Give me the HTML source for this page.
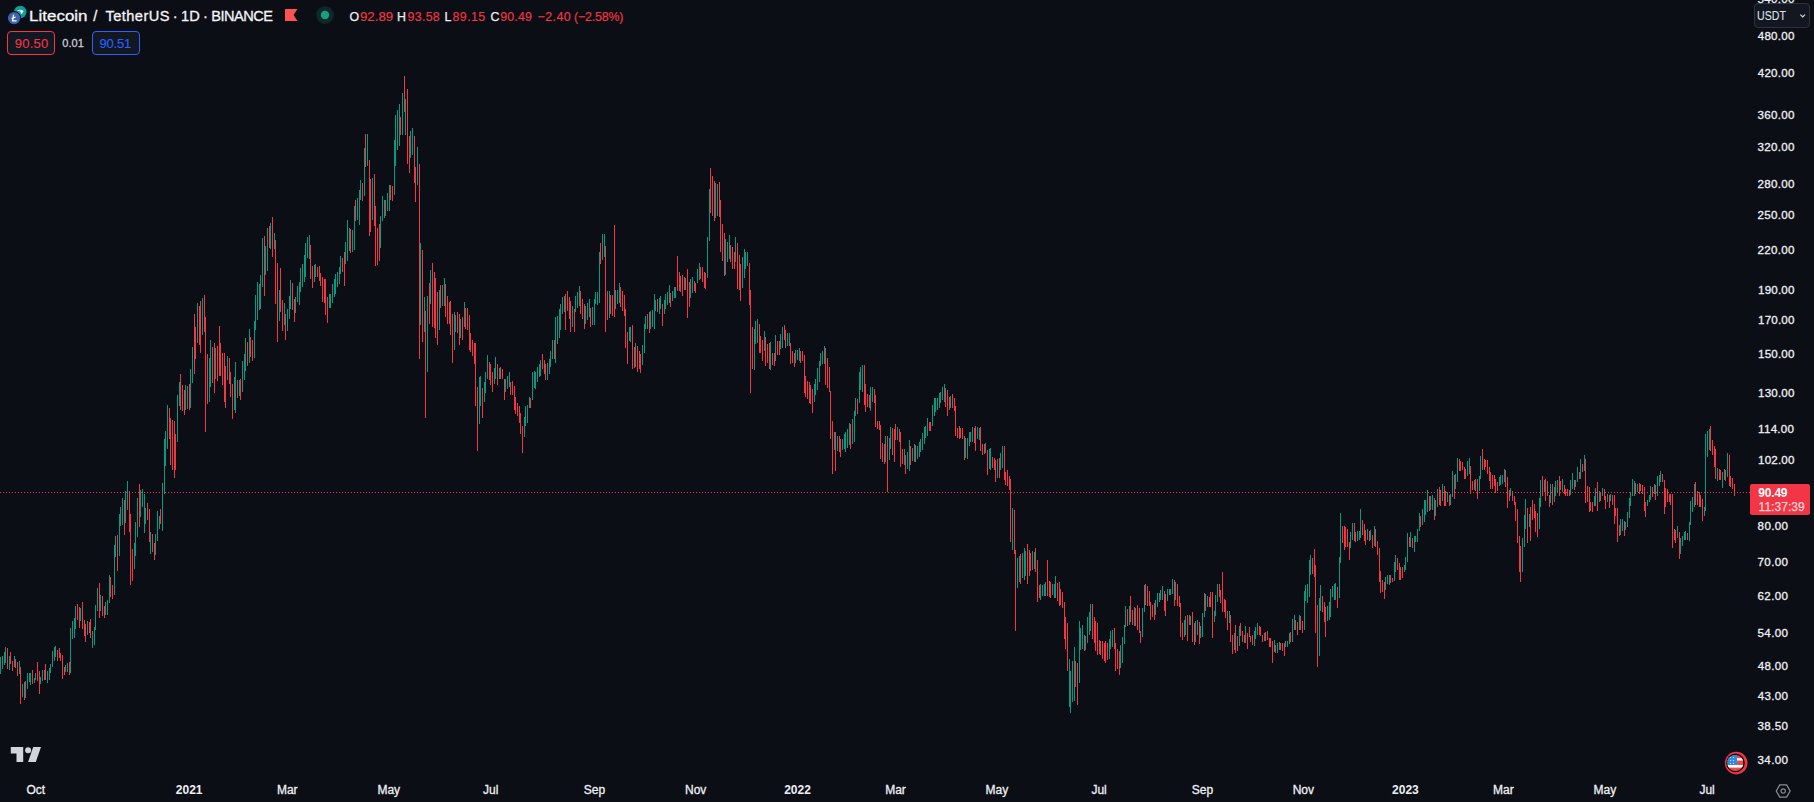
<!DOCTYPE html>
<html lang="en">
<head>
<meta charset="utf-8">
<title>LTCUSDT chart</title>
<style>
html,body{margin:0;padding:0;background:#0c0e15;}
body{width:1814px;height:802px;overflow:hidden;position:relative;font-family:"Liberation Sans",sans-serif;color:#d1d4dc;}
#chart{position:absolute;left:0;top:0;width:1814px;height:802px;}
.t{position:absolute;white-space:pre;line-height:1;}
.box{position:absolute;top:31px;height:22px;width:46px;border:1px solid;border-radius:4px;background:#131722;font-size:13px;line-height:22px;text-align:center;}
#sell{left:7px;border-color:#f23645;color:#f23645;}
#buy{left:92px;border-color:#2962ff;color:#2962ff;}
#usdt{position:absolute;left:1754px;top:3px;width:54px;height:23px;border:1px solid #2e323d;border-radius:4px;background:#131722;}
#plabel{position:absolute;left:1750px;top:484px;width:60px;height:31px;background:#f23645;border-radius:2px;}
</style>
</head>
<body>
<svg id="chart" width="1814" height="802" viewBox="0 0 1814 802">
<g fill="none" stroke-width="1" shape-rendering="crispEdges" transform="translate(0.5,0)">
<path d="M0 657v17M2 656v13M4 652v13M5 647v16M9 656v14M14 656v11M19 661v13M22 684v13M25 681v17M27 673v16M29 673v9M30 673v12M34 678v5M35 673v7M40 677v7M42 670v11M47 671v12M49 668v12M50 664v9M52 651v16M54 647v14M55 646v11M65 665v7M67 663v9M70 628v45M72 621v18M74 618v20M75 606v23M80 608v13M87 621v14M92 631v17M94 627v18M95 605v25M97 588v23M100 595v16M105 602v13M107 600v15M109 575v28M114 545v50M115 536v21M119 514v42M120 507v19M122 498v27M125 491v32M127 481v29M134 543v26M135 522v34M137 498v39M140 490v27M142 489v18M144 494v39M145 508v16M150 532v22M155 534v21M157 511v30M159 516v13M162 483v48M164 439v55M165 431v35M167 405v44M177 395v47M179 382v24M185 385v25M187 386v23M190 369v39M192 347v36M197 303v40M202 298v37M209 358v44M210 340v47M215 348v31M227 356v24M234 377v33M235 362v51M239 380v16M242 361v31M244 354v26M245 338v33M249 329v34M254 321v37M255 295v35M257 282v38M259 284v26M260 275v34M262 238v49M265 246v29M267 228v43M270 223v26M274 233v16M279 290v31M284 303v22M287 309v22M289 296v23M290 280v29M295 297v16M297 286v16M299 282v23M300 268v24M302 264v23M304 255v27M305 243v34M307 237v21M309 235v24M314 265v17M315 264v13M329 294v14M330 294v14M332 284v19M334 279v18M335 274v20M337 272v15M339 267v17M340 256v18M345 242v22M347 220v41M349 228v23M352 230v22M354 206v44M357 198v22M359 190v35M360 180v20M364 148v48M367 134v32M372 178v42M380 216v32M382 196v25M384 200v18M387 193v18M389 185v26M394 140v55M395 115v51M397 110v40M399 104v42M402 93v42M405 99v36M410 131v27M412 128v27M417 147v38M420 243v82M424 297v35M427 296v76M430 270v34M439 290v40M442 285v21M444 278v28M454 312v38M455 315v17M460 319v19M464 302v25M479 377v47M480 376v30M484 382v20M485 372v21M487 355v24M494 368v16M495 357v22M499 368v11M505 379v13M507 376v13M509 372v15M524 417v20M525 406v20M527 405v18M529 397v11M532 372v28M534 371v17M535 372v17M537 367v15M539 364v13M540 360v16M547 363v17M549 359v15M550 351v16M552 340v19M555 317v46M557 316v28M559 309v29M560 304v26M562 297v17M564 296v16M572 306v21M575 296v16M577 292v16M579 286v20M585 306v18M587 303v17M589 299v18M592 307v18M594 299v26M595 292v12M597 292v13M599 252v51M602 234v26M604 234v23M609 291v27M615 290v19M617 290v14M619 283v20M629 327v14M630 327v15M635 343v24M642 345v20M644 324v29M645 316v13M647 314v15M650 311v18M652 310v17M654 294v35M655 300v11M659 298v16M660 296v13M664 300v14M665 294v15M667 292v13M669 285v18M672 291v10M674 287v11M675 287v11M684 277v13M690 279v19M692 277v16M697 269v14M699 263v17M707 237v41M709 189v52M715 183v35M717 184v32M725 239v36M727 242v20M729 235v24M735 237v25M742 257v31M744 249v29M745 252v17M747 252v14M754 329v41M755 321v23M757 319v24M764 331v20M770 342v28M775 335v26M780 334v15M782 327v21M787 333v13M789 333v13M795 350v13M797 350v10M799 348v13M814 384v18M815 379v16M817 368v22M819 361v21M820 353v13M822 351v13M824 346v18M834 432v18M837 436v15M842 439v11M844 434v15M845 432v20M847 429v19M849 423v22M852 419v25M854 411v31M855 398v18M859 372v31M860 367v23M862 365v27M870 387v24M872 387v15M885 436v26M889 438v22M890 427v22M897 427v13M904 449v16M907 452v17M909 440v31M912 448v13M914 444v18M917 446v13M919 442v15M920 439v13M922 433v17M924 427v17M925 426v12M927 418v18M932 405v21M934 398v18M935 398v14M937 398v12M939 393v15M940 392v11M942 387v13M944 384v18M950 396v12M965 438v20M967 438v21M969 432v14M970 432v10M972 427v15M977 427v12M979 428v12M985 443v10M989 449v20M990 448v22M997 459v19M1000 453v17M1002 446v22M1012 508v42M1017 558v30M1019 556v26M1022 553v25M1024 548v32M1025 551v25M1032 551v19M1034 552v17M1040 584v16M1042 585v11M1044 584v12M1045 582v14M1052 584v11M1054 584v14M1055 576v22M1069 659v48M1070 671v42M1072 661v41M1074 647v54M1079 621v62M1080 628v22M1082 625v24M1085 636v14M1087 617v26M1089 612v23M1090 604v27M1109 639v20M1110 631v18M1112 630v17M1120 645v23M1122 637v26M1124 625v19M1125 606v21M1129 606v19M1135 608v18M1142 608v29M1144 585v27M1155 600v15M1157 593v14M1159 593v9M1160 590v10M1162 586v14M1167 589v12M1169 589v6M1170 589v6M1172 579v15M1175 582v18M1184 620v17M1185 616v19M1190 616v9M1195 621v21M1197 620v15M1200 626v12M1202 613v24M1204 593v24M1207 596v11M1214 611v11M1215 595v21M1217 584v18M1229 611v12M1234 633v17M1239 626v20M1245 626v17M1254 631v15M1255 627v12M1257 623v12M1264 633v8M1274 640v12M1277 643v10M1279 642v8M1285 641v6M1287 641v6M1289 633v11M1292 619v23M1294 615v15M1299 615v15M1304 591v39M1305 585v16M1307 584v19M1309 560v37M1310 555v20M1319 598v58M1320 585v26M1327 606v15M1329 602v18M1330 589v28M1332 586v11M1334 584v16M1335 583v17M1339 557v41M1340 513v50M1350 532v16M1352 523v17M1357 531v10M1359 531v9M1360 509v29M1367 529v11M1370 530v10M1374 526v20M1385 577v13M1387 575v9M1389 575v10M1394 562v19M1395 555v17M1404 565v7M1405 557v13M1407 533v29M1410 532v15M1414 536v16M1415 536v6M1417 529v13M1419 513v18M1422 509v16M1424 500v22M1425 500v15M1427 490v22M1430 496v14M1432 495v15M1435 500v16M1437 489v18M1442 484v17M1447 492v10M1450 494v11M1452 471v26M1455 474v15M1457 458v24M1467 461v15M1469 458v16M1474 480v10M1479 476v15M1480 456v23M1499 477v9M1500 475v10M1502 475v9M1504 469v13M1510 488v8M1522 538v34M1524 515v32M1525 499v30M1529 514v13M1539 498v31M1540 480v27M1544 480v12M1550 484v19M1554 487v15M1555 481v15M1557 480v12M1562 479v13M1570 480v15M1572 473v16M1575 480v7M1577 467v15M1580 459v20M1584 455v16M1594 496v10M1595 488v18M1599 491v11M1602 488v8M1607 494v8M1610 494v7M1620 519v16M1622 519v12M1625 522v8M1627 512v15M1629 498v20M1630 492v14M1632 479v17M1634 481v15M1637 484v8M1647 500v6M1649 495v7M1650 486v14M1654 484v10M1657 476v20M1659 475v11M1660 471v11M1677 526v12M1680 538v16M1682 536v10M1684 532v8M1685 531v9M1689 522v19M1690 501v24M1692 497v15M1694 484v23M1704 507v9M1705 434v77M1707 431v26M1709 429v21M1717 468v13M1722 472v16M1724 469v11M1727 453v24" stroke="#089981"/>
<path d="M7 648v21M10 652v12M12 661v10M15 659v9M17 662v14M20 667v37M24 682v18M32 670v14M37 662v19M39 671v23M44 670v10M45 664v16M57 650v11M59 648v10M60 653v8M62 655v24M64 667v8M69 662v13M77 604v16M79 607v21M82 602v27M84 620v16M85 624v18M89 622v11M90 619v19M99 583v35M102 596v20M104 606v12M110 577v20M112 585v14M117 535v36M124 500v35M129 491v41M130 514v71M132 549v32M139 484v43M147 503v17M149 509v33M152 534v18M154 543v17M160 509v15M169 408v31M170 418v47M172 420v50M174 421v57M175 434v36M180 374v36M182 385v26M184 390v25M189 384v26M194 314v60M195 327v32M199 306v39M200 301v52M204 295v37M205 317v115M207 354v50M212 347v36M214 343v50M217 346v35M219 326v50M220 343v33M222 353v32M224 353v49M225 366v42M229 358v26M230 372v25M232 384v35M237 380v18M240 379v21M247 342v24M250 337v20M252 340v21M264 236v60M269 226v22M272 217v40M275 240v64M277 263v79M280 268v44M282 300v31M285 314v26M292 283v27M294 299v23M310 245v34M312 266v22M317 267v10M319 266v15M320 273v13M322 277v25M324 279v24M325 279v36M327 297v26M342 258v14M344 252v34M350 229v24M355 200v21M362 183v18M365 134v33M369 160v76M370 179v53M374 174v52M375 206v60M377 228v37M379 224v37M385 200v16M390 185v15M392 186v15M400 117v18M404 76v36M407 89v75M409 136v37M414 136v47M415 167v35M419 164v195M422 250v92M425 311v107M429 283v41M432 263v64M434 272v56M435 278v60M437 292v53M440 285v23M445 284v33M447 296v28M449 302v22M450 301v34M452 314v49M457 312v21M459 314v31M462 317v23M465 308v21M467 308v22M469 315v35M470 333v19M472 340v16M474 343v21M475 343v63M477 387v64M482 388v30M489 362v18M490 364v21M492 372v20M497 364v21M500 367v12M502 369v10M504 379v21M510 382v13M512 381v14M514 386v24M515 397v17M517 403v13M519 406v17M520 413v21M522 426v27M530 398v10M542 354v15M544 360v14M545 364v16M554 340v19M565 294v36M567 291v20M569 297v22M570 301v31M574 309v23M580 291v23M582 299v20M584 304v25M590 308v19M600 243v21M605 246v86M607 291v29M610 295v19M612 295v21M614 225v92M620 287v20M622 291v20M624 295v21M625 309v39M627 332v32M632 325v44M634 347v21M637 346v26M639 351v18M640 354v19M649 312v21M657 299v13M662 304v22M670 293v14M677 256v35M679 272v19M680 276v16M682 275v21M685 278v12M687 269v49M689 282v25M694 281v10M695 283v10M700 267v12M702 267v15M704 272v16M705 273v16M710 168v45M712 176v40M714 181v40M719 182v35M720 200v52M722 224v37M724 233v43M730 245v17M732 247v22M734 252v17M737 243v46M739 255v35M740 264v37M749 263v42M750 290v103M752 327v42M759 324v29M760 336v17M762 340v21M765 337v29M767 344v19M769 343v26M772 353v12M774 353v13M777 341v14M779 341v14M784 325v15M785 330v18M790 343v21M792 351v12M794 353v14M800 351v12M802 351v10M804 355v38M805 376v21M807 381v18M809 382v21M810 385v19M812 389v24M825 348v37M827 358v30M829 367v25M830 391v48M832 421v53M835 432v39M839 436v16M840 439v18M850 424v25M857 399v15M864 365v40M865 384v28M867 394v13M869 395v13M874 389v14M875 395v32M877 421v8M879 421v9M880 425v34M882 443v19M884 444v20M887 436v56M892 428v27M894 429v33M895 424v16M899 429v13M900 432v35M902 449v15M905 455v19M910 446v19M915 445v17M929 422v9M930 422v9M945 388v19M947 390v26M949 397v13M952 394v14M954 398v13M955 406v30M957 428v10M959 426v13M960 428v10M962 428v11M964 436v24M974 428v15M975 426v25M980 427v24M982 444v11M984 444v10M987 450v25M992 457v11M994 458v12M995 460v22M999 458v20M1004 446v34M1005 472v13M1007 470v16M1009 476v14M1010 479v63M1014 510v44M1015 550v81M1020 554v30M1027 544v40M1029 550v26M1030 553v18M1035 548v24M1037 560v42M1039 585v13M1047 560v36M1049 581v16M1050 582v16M1057 583v18M1059 582v24M1060 589v16M1062 592v16M1064 602v37M1065 617v32M1067 623v48M1075 661v26M1077 663v42M1084 635v16M1092 604v35M1094 617v26M1095 621v30M1097 623v32M1099 640v14M1100 641v14M1102 641v18M1104 643v18M1105 641v22M1107 643v17M1114 628v21M1115 643v28M1117 649v20M1119 651v24M1127 609v17M1130 596v26M1132 610v15M1134 607v19M1137 605v25M1139 608v25M1140 631v12M1145 584v21M1147 586v20M1149 591v15M1150 602v18M1152 605v12M1154 603v17M1164 591v20M1165 594v22M1174 580v26M1177 584v22M1179 596v11M1180 603v34M1182 623v17M1187 615v26M1189 615v10M1192 612v30M1194 623v22M1199 622v22M1205 594v17M1209 597v10M1210 592v15M1212 592v46M1219 584v13M1220 590v13M1222 572v40M1224 599v13M1225 600v18M1227 611v19M1230 615v27M1232 635v19M1235 625v28M1237 636v15M1240 623v13M1242 631v11M1244 635v8M1247 633v16M1249 627v10M1250 636v6M1252 635v10M1259 626v9M1260 627v9M1262 635v7M1265 632v9M1267 631v9M1269 638v9M1270 638v9M1272 641v22M1275 645v8M1280 643v7M1282 643v8M1284 643v13M1290 632v10M1295 620v10M1297 622v13M1300 616v14M1302 621v12M1312 558v16M1314 549v28M1315 565v68M1317 605v62M1322 596v16M1324 602v20M1325 607v30M1337 587v21M1342 526v17M1344 526v24M1345 527v20M1347 529v18M1349 542v18M1354 523v18M1355 532v10M1362 520v15M1364 524v17M1365 530v15M1369 531v10M1372 535v13M1375 529v18M1377 541v14M1379 548v34M1380 571v22M1382 580v12M1384 582v17M1390 575v8M1392 578v4M1397 558v12M1399 563v17M1400 567v13M1402 567v11M1409 537v10M1412 538v10M1420 516v11M1429 496v15M1434 498v22M1439 487v18M1440 490v16M1444 486v20M1445 491v15M1449 495v11M1454 475v24M1459 459v12M1460 461v10M1462 462v8M1464 467v12M1465 469v10M1470 466v28M1472 481v9M1475 479v12M1477 479v20M1482 449v21M1484 459v11M1485 460v7M1487 460v14M1489 467v14M1490 472v17M1492 475v14M1494 475v11M1495 479v14M1497 482v9M1505 470v17M1507 477v31M1509 490v11M1512 491v10M1514 496v9M1515 502v19M1517 509v34M1519 536v36M1520 546v36M1527 508v35M1530 507v34M1532 500v20M1534 504v14M1535 511v21M1537 513v24M1542 476v20M1545 479v22M1547 481v15M1549 495v12M1552 484v21M1559 476v20M1560 481v9M1564 485v9M1565 489v7M1567 489v7M1569 490v6M1574 480v10M1579 472v7M1582 464v8M1585 459v44M1587 486v16M1589 487v25M1590 502v9M1592 502v10M1597 482v29M1600 492v9M1604 489v11M1605 496v13M1609 495v13M1612 495v10M1614 495v29M1615 508v8M1617 508v34M1619 525v11M1624 521v15M1635 483v11M1639 483v11M1640 484v7M1642 485v9M1644 487v24M1645 502v15M1652 487v10M1655 485v15M1662 474v8M1664 480v34M1665 488v19M1667 489v13M1669 494v8M1670 494v11M1672 494v54M1674 529v11M1675 530v13M1679 532v27M1687 533v7M1695 482v23M1697 491v14M1699 492v15M1700 495v12M1702 499v22M1710 426v25M1712 440v15M1714 446v21M1715 449v30M1719 469v11M1720 470v10M1725 470v11M1729 455v31M1730 476v11M1732 478v11M1734 484v12" stroke="#f23645"/>
</g>
<line x1="0" y1="492.5" x2="1750" y2="492.5" stroke="#f23645" stroke-width="1" stroke-dasharray="1 2" shape-rendering="crispEdges"/>
<!-- symbol logos -->
<circle cx="20.3" cy="12" r="6.2" fill="#109d98"/>
<path d="M17.1 10.4 Q20.6 9.1 23.7 11 L22.7 12.5 L21.7 13.9 L20.4 13.1 L21 11.9 Q19 10.9 17.5 11.1 Z" fill="#eefaf9"/><ellipse cx="20" cy="10.85" rx="0.9" ry="0.4" fill="#109d98"/>
<circle cx="14.1" cy="18.1" r="7" fill="#0c0e15"/>
<circle cx="14.1" cy="18.1" r="6.2" fill="#3e62ad"/>
<path d="M13.6 14.6 L12.6 20.8 L16.6 20.8 M11.6 18.6 L15.6 17" fill="none" stroke="#fff" stroke-width="1.3"/>
<!-- flag -->
<path d="M285 9 H297.5 L293.5 15 L297.5 21 H285 Z" fill="#ff5252"/>
<!-- status -->
<circle cx="325" cy="15" r="8.8" fill="#10282a"/>
<circle cx="325" cy="15" r="4.2" fill="#14a085"/>
<!-- TV logo -->
<path d="M10.8 747 H23.2 V762 H16.5 V753.4 H10.8 Z" fill="#d1d4dc"/>
<circle cx="28.1" cy="750.3" r="3" fill="#d1d4dc"/>
<path d="M33.2 747 H41 L35.8 762 H28.1 Z" fill="#d1d4dc"/>
<!-- US flag round icon -->
<circle cx="1736.2" cy="763.1" r="11.3" fill="#f23645"/><circle cx="1735.5" cy="762.9" r="9.3" fill="#0c0e15"/>
<clipPath id="fc"><circle cx="1735.3" cy="763" r="8"/></clipPath>
<g clip-path="url(#fc)">
<rect x="1727" y="755" width="17" height="17" fill="#ef4a4a"/>
<rect x="1727" y="758.2" width="17" height="2.3" fill="#fff"/>
<rect x="1727" y="762.6" width="17" height="0" fill="#fff"/>
<rect x="1727" y="765" width="17" height="2.6" fill="#fff"/>
<rect x="1727" y="755" width="10" height="10" fill="#2b8be6"/>
<g fill="#dbeafb"><rect x="1730" y="757" width="1" height="1"/><rect x="1733" y="757" width="1" height="1"/><rect x="1730" y="760" width="1" height="1"/><rect x="1733" y="760" width="1" height="1"/><rect x="1730" y="763" width="1" height="1"/><rect x="1733" y="763" width="1" height="1"/></g>
</g>
<!-- settings hexagon -->
<path d="M1776.3 791 L1779.75 784.9 H1786.65 L1790.1 791 L1786.65 797.1 H1779.75 Z" fill="none" stroke="#8a8d97" stroke-width="1.25"/>
<circle cx="1783.2" cy="791" r="2.2" fill="none" stroke="#868993" stroke-width="1.2"/>
</svg>

<div class="box" id="sell"></div>
<div class="box" id="buy"></div>
<div id="usdt">
<svg width="10" height="6" viewBox="0 0 10 6" style="position:absolute;left:43px;top:10px"><path d="M2.4 0.6 L4.7 2.9 L7 0.6" fill="none" stroke="#d5d8df" stroke-width="1.25"/></svg>
</div>
<div id="plabel"></div>
<div class="t" style="left:29.14px;top:9px;font-size:14.6px;color:#f4f5f7;-webkit-text-stroke:0.3px #f4f5f7;transform:scaleX(1.164);transform-origin:0 0;">Litecoin</div>
<div class="t" style="left:93.15px;top:9px;font-size:14.6px;color:#f4f5f7;-webkit-text-stroke:0.3px #f4f5f7;">/</div>
<div class="t" style="left:105.45px;top:9px;font-size:14.6px;color:#f4f5f7;-webkit-text-stroke:0.3px #f4f5f7;letter-spacing:0.46px;">TetherUS</div>
<div class="t" style="left:172.68px;top:9px;font-size:14.6px;color:#f4f5f7;-webkit-text-stroke:0.3px #f4f5f7;">·</div>
<div class="t" style="left:180.96px;top:9px;font-size:14.6px;color:#f4f5f7;-webkit-text-stroke:0.3px #f4f5f7;letter-spacing:0.06px;">1D</div>
<div class="t" style="left:202.88px;top:9px;font-size:14.6px;color:#f4f5f7;-webkit-text-stroke:0.3px #f4f5f7;">·</div>
<div class="t" style="left:211.22px;top:9px;font-size:14.6px;color:#f4f5f7;-webkit-text-stroke:0.3px #f4f5f7;letter-spacing:-0.5px;">BINANCE</div>
<div class="t" style="left:349.51px;top:11px;font-size:12.4px;color:#eceef2;-webkit-text-stroke:0.25px #eceef2;">O</div>
<div class="t" style="left:359.79px;top:11px;font-size:12.4px;color:#f23645;-webkit-text-stroke:0.15px #f23645;transform:scaleX(1.0676);transform-origin:0 0;">92.89</div>
<div class="t" style="left:396.89px;top:11px;font-size:12.4px;color:#eceef2;-webkit-text-stroke:0.25px #eceef2;">H</div>
<div class="t" style="left:407.52px;top:11px;font-size:12.4px;color:#f23645;-webkit-text-stroke:0.15px #f23645;letter-spacing:0.3px;">93.58</div>
<div class="t" style="left:444.39px;top:11px;font-size:12.4px;color:#eceef2;-webkit-text-stroke:0.25px #eceef2;">L</div>
<div class="t" style="left:452.49px;top:11px;font-size:12.4px;color:#f23645;-webkit-text-stroke:0.15px #f23645;letter-spacing:0.43px;">89.15</div>
<div class="t" style="left:490.59px;top:11px;font-size:12.4px;color:#eceef2;-webkit-text-stroke:0.25px #eceef2;">C</div>
<div class="t" style="left:500.22px;top:11px;font-size:12.4px;color:#f23645;-webkit-text-stroke:0.15px #f23645;letter-spacing:0.16px;">90.49</div>
<div class="t" style="left:537.61px;top:11px;font-size:12.4px;color:#f23645;-webkit-text-stroke:0.15px #f23645;letter-spacing:0.42px;">−2.40</div>
<div class="t" style="left:574.1px;top:11px;font-size:12.4px;color:#f23645;-webkit-text-stroke:0.15px #f23645;letter-spacing:-0.18px;">(−2.58%)</div>
<div class="t" style="left:14.86px;top:37px;font-size:13px;color:#f23645;-webkit-text-stroke:0.1px #f23645;letter-spacing:0.2px;">90.50</div>
<div class="t" style="left:62.33px;top:38px;font-size:11px;color:#c9ccd3;-webkit-text-stroke:0.3px #c9ccd3;letter-spacing:0.03px;">0.01</div>
<div class="t" style="left:99.56px;top:37px;font-size:13px;color:#2962ff;-webkit-text-stroke:0.1px #2962ff;letter-spacing:-0.24px;">90.51</div>
<div class="t" style="left:1757.33px;top:10px;font-size:12px;color:#dfe2ea;-webkit-text-stroke:0.1px #dfe2ea;transform:scaleX(0.8832);transform-origin:0 0;">USDT</div>
<div class="t" style="left:1757.78px;top:30px;font-size:11.6px;color:#eef0f4;-webkit-text-stroke:0.3px #eef0f4;letter-spacing:0.23px;">480.00</div>
<div class="t" style="left:1757.78px;top:67px;font-size:11.6px;color:#eef0f4;-webkit-text-stroke:0.3px #eef0f4;letter-spacing:0.23px;">420.00</div>
<div class="t" style="left:1757.51px;top:109px;font-size:11.6px;color:#eef0f4;-webkit-text-stroke:0.3px #eef0f4;letter-spacing:0.28px;">360.00</div>
<div class="t" style="left:1757.51px;top:141px;font-size:11.6px;color:#eef0f4;-webkit-text-stroke:0.3px #eef0f4;letter-spacing:0.28px;">320.00</div>
<div class="t" style="left:1757.59px;top:178px;font-size:11.6px;color:#eef0f4;-webkit-text-stroke:0.3px #eef0f4;letter-spacing:0.27px;">280.00</div>
<div class="t" style="left:1757.59px;top:209px;font-size:11.6px;color:#eef0f4;-webkit-text-stroke:0.3px #eef0f4;letter-spacing:0.27px;">250.00</div>
<div class="t" style="left:1757.59px;top:244px;font-size:11.6px;color:#eef0f4;-webkit-text-stroke:0.3px #eef0f4;letter-spacing:0.27px;">220.00</div>
<div class="t" style="left:1758.1px;top:284px;font-size:11.6px;color:#eef0f4;-webkit-text-stroke:0.3px #eef0f4;letter-spacing:0.17px;">190.00</div>
<div class="t" style="left:1758.1px;top:314px;font-size:11.6px;color:#eef0f4;-webkit-text-stroke:0.3px #eef0f4;letter-spacing:0.17px;">170.00</div>
<div class="t" style="left:1758.1px;top:348px;font-size:11.6px;color:#eef0f4;-webkit-text-stroke:0.3px #eef0f4;letter-spacing:0.17px;">150.00</div>
<div class="t" style="left:1758.1px;top:387px;font-size:11.6px;color:#eef0f4;-webkit-text-stroke:0.3px #eef0f4;letter-spacing:0.17px;">130.00</div>
<div class="t" style="left:1758.1px;top:423px;font-size:11.6px;color:#eef0f4;-webkit-text-stroke:0.3px #eef0f4;letter-spacing:0.25px;">114.00</div>
<div class="t" style="left:1758.1px;top:454px;font-size:11.6px;color:#eef0f4;-webkit-text-stroke:0.3px #eef0f4;letter-spacing:0.17px;">102.00</div>
<div class="t" style="left:1757.58px;top:520px;font-size:11.6px;color:#eef0f4;-webkit-text-stroke:0.3px #eef0f4;letter-spacing:0.36px;">80.00</div>
<div class="t" style="left:1757.57px;top:556px;font-size:11.6px;color:#eef0f4;-webkit-text-stroke:0.3px #eef0f4;letter-spacing:0.36px;">70.00</div>
<div class="t" style="left:1757.54px;top:590px;font-size:11.6px;color:#eef0f4;-webkit-text-stroke:0.3px #eef0f4;letter-spacing:0.37px;">62.00</div>
<div class="t" style="left:1757.54px;top:627px;font-size:11.6px;color:#eef0f4;-webkit-text-stroke:0.3px #eef0f4;letter-spacing:0.37px;">54.00</div>
<div class="t" style="left:1757.78px;top:660px;font-size:11.6px;color:#eef0f4;-webkit-text-stroke:0.3px #eef0f4;letter-spacing:0.31px;">48.00</div>
<div class="t" style="left:1757.78px;top:690px;font-size:11.6px;color:#eef0f4;-webkit-text-stroke:0.3px #eef0f4;letter-spacing:0.31px;">43.00</div>
<div class="t" style="left:1757.51px;top:720px;font-size:11.6px;color:#eef0f4;-webkit-text-stroke:0.3px #eef0f4;letter-spacing:0.38px;">38.50</div>
<div class="t" style="left:1757.51px;top:754px;font-size:11.6px;color:#eef0f4;-webkit-text-stroke:0.3px #eef0f4;letter-spacing:0.38px;">34.00</div>
<div class="t" style="left:1757.54px;top:-7px;font-size:11.6px;color:#eef0f4;-webkit-text-stroke:0.3px #eef0f4;letter-spacing:0.28px;">540.00</div>
<div class="t" style="left:1758.3px;top:487px;font-size:12px;color:#ffffff;font-weight:bold;letter-spacing:-0.2px;">90.49</div>
<div class="t" style="left:1758.55px;top:501px;font-size:12px;color:#fcd3d7;-webkit-text-stroke:0.25px #fcd3d7;letter-spacing:0.05px;">11:37:39</div>
<div class="t" style="left:26.45px;top:784px;font-size:12px;color:#eef0f4;-webkit-text-stroke:0.3px #eef0f4;">Oct</div>
<div class="t" style="left:175.81px;top:784px;font-size:12px;color:#eef0f4;font-weight:bold;">2021</div>
<div class="t" style="left:276.91px;top:784px;font-size:12px;color:#eef0f4;-webkit-text-stroke:0.3px #eef0f4;">Mar</div>
<div class="t" style="left:377.42px;top:784px;font-size:12px;color:#eef0f4;-webkit-text-stroke:0.3px #eef0f4;">May</div>
<div class="t" style="left:483.02px;top:784px;font-size:12px;color:#eef0f4;-webkit-text-stroke:0.3px #eef0f4;">Jul</div>
<div class="t" style="left:583.73px;top:784px;font-size:12px;color:#eef0f4;-webkit-text-stroke:0.3px #eef0f4;">Sep</div>
<div class="t" style="left:684.98px;top:784px;font-size:12px;color:#eef0f4;-webkit-text-stroke:0.3px #eef0f4;">Nov</div>
<div class="t" style="left:784.19px;top:784px;font-size:12px;color:#eef0f4;font-weight:bold;">2022</div>
<div class="t" style="left:885.21px;top:784px;font-size:12px;color:#eef0f4;-webkit-text-stroke:0.3px #eef0f4;">Mar</div>
<div class="t" style="left:985.52px;top:784px;font-size:12px;color:#eef0f4;-webkit-text-stroke:0.3px #eef0f4;">May</div>
<div class="t" style="left:1091.42px;top:784px;font-size:12px;color:#eef0f4;-webkit-text-stroke:0.3px #eef0f4;">Jul</div>
<div class="t" style="left:1191.73px;top:784px;font-size:12px;color:#eef0f4;-webkit-text-stroke:0.3px #eef0f4;">Sep</div>
<div class="t" style="left:1292.68px;top:784px;font-size:12px;color:#eef0f4;-webkit-text-stroke:0.3px #eef0f4;">Nov</div>
<div class="t" style="left:1392.1px;top:784px;font-size:12px;color:#eef0f4;font-weight:bold;">2023</div>
<div class="t" style="left:1493.01px;top:784px;font-size:12px;color:#eef0f4;-webkit-text-stroke:0.3px #eef0f4;">Mar</div>
<div class="t" style="left:1593.52px;top:784px;font-size:12px;color:#eef0f4;-webkit-text-stroke:0.3px #eef0f4;">May</div>
<div class="t" style="left:1699.42px;top:784px;font-size:12px;color:#eef0f4;-webkit-text-stroke:0.3px #eef0f4;">Jul</div>
</body>
</html>
